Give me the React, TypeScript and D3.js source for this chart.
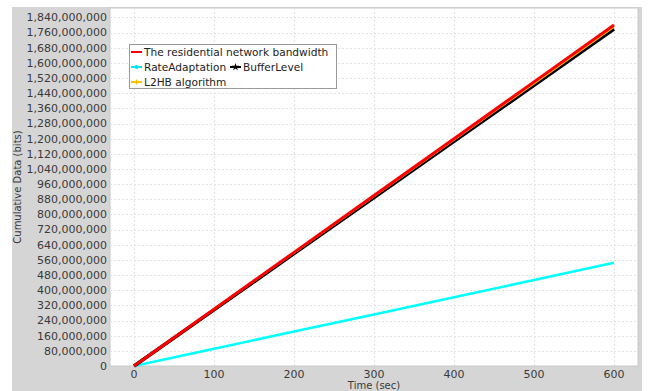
import React, { useEffect, useRef } from 'react';
import * as d3 from 'd3';

// time in seconds, cumulative bits
const times = [0, 100, 200, 300, 400, 500, 600];
const bandwidth = [0, 300e6, 600e6, 900e6, 1200e6, 1500e6, 1800e6];
const l2hb = [0, 298e6, 596e6, 894e6, 1192e6, 1490e6, 1789e6];
const bufferLevel = [0, 296e6, 593e6, 889e6, 1186e6, 1482e6, 1779e6];
const rateAdaptation = [0, 91e6, 182e6, 272e6, 363e6, 454e6, 545e6];

const xTicks = [0, 100, 200, 300, 400, 500, 600];
const yTicks = d3.range(0, 1840e6 + 1, 80e6);

const series = [
  { name: 'RateAdaptation', values: rateAdaptation, color: '#00ffff', width: 2.5 },
  { name: 'BufferLevel', values: bufferLevel, color: '#000000', width: 3.5 },
  { name: 'L2HB algorithm', values: l2hb, color: '#ffc000', width: 1.5 },
  { name: 'The residential network bandwidth', values: bandwidth, color: '#ff0000', width: 3 },
];

const App = () => {
  const ref = useRef<SVGSVGElement>(null);

  useEffect(() => {
    const svg = d3.select(ref.current);
    svg.selectAll('*').remove();

    const width = 650, height = 391;
    const left = 110, right = 638, top = 8, bottom = 366;
    const font = 'DejaVu Sans, sans-serif';
    const textColor = '#3a3a3a';

    svg.attr('width', width).attr('height', height);

    // background panel
    svg.append('rect').attr('x', 12).attr('y', 7).attr('width', 630).attr('height', 384).attr('fill', '#d5d5d5');
    svg.append('rect').attr('x', left).attr('y', top).attr('width', right - left).attr('height', bottom - top)
      .attr('fill', '#fff').attr('stroke', '#c8c8c8').attr('stroke-width', 1);

    const x = d3.scaleLinear().domain([-30, 630]).range([left, right]);
    const y = d3.scaleLinear().domain([0, 1890e6]).range([bottom, top]);

    const grid = svg.append('g');
    grid.selectAll('line.h').data(yTicks.slice(1)).join('line')
      .attr('x1', left).attr('x2', right)
      .attr('y1', d => Math.round(y(d)) + 0.5).attr('y2', d => Math.round(y(d)) + 0.5)
      .attr('stroke', '#e2e2e2').attr('stroke-dasharray', '2,2');
    grid.selectAll('line.v').data(xTicks).join('line')
      .attr('y1', top).attr('y2', bottom)
      .attr('x1', d => Math.round(x(d)) + 0.5).attr('x2', d => Math.round(x(d)) + 0.5)
      .attr('stroke', '#e2e2e2').attr('stroke-dasharray', '2,2');

    // y tick labels
    svg.append('g').selectAll('text').data(yTicks).join('text')
      .attr('x', left - 3).attr('y', d => y(d)).attr('dy', '0.35em')
      .attr('text-anchor', 'end').attr('font-family', font).attr('font-size', 11).attr('fill', textColor)
      .text(d => d3.format(',')(d));

    // x tick labels
    svg.append('g').selectAll('text').data(xTicks).join('text')
      .attr('x', d => x(d)).attr('y', 378)
      .attr('text-anchor', 'middle').attr('font-family', font).attr('font-size', 11).attr('fill', textColor)
      .text(d => d);

    svg.append('text').attr('x', (left + right) / 2).attr('y', 389)
      .attr('text-anchor', 'middle').attr('font-family', font).attr('font-size', 10).attr('fill', textColor)
      .text('Time (sec)');
    svg.append('text').attr('transform', `translate(21, ${(top + bottom) / 2}) rotate(-90)`)
      .attr('text-anchor', 'middle').attr('font-family', font).attr('font-size', 10).attr('fill', textColor)
      .text('Cumulative Data (bits)');

    const line = d3.line<number>().x((_, i) => x(times[i])).y(d => y(d));
    svg.append('g').selectAll('path').data(series).join('path')
      .attr('d', d => line(d.values))
      .attr('fill', 'none').attr('stroke', d => d.color).attr('stroke-width', d => d.width);

    // legend
    const lg = svg.append('g');
    lg.append('rect').attr('x', 129.5).attr('y', 44.5).attr('width', 207).attr('height', 44)
      .attr('fill', '#fff').attr('stroke', '#999');
    const item = (sx: number, sy: number, color: string, label: string, marker: string) => {
      lg.append('line').attr('x1', sx).attr('x2', sx + 11).attr('y1', sy).attr('y2', sy)
        .attr('stroke', color).attr('stroke-width', 2);
      if (marker === 'dot') {
        lg.append('circle').attr('cx', sx + 5.5).attr('cy', sy).attr('r', 2).attr('fill', color);
      } else if (marker === 'star') {
        lg.append('path').attr('d', d3.symbol(d3.symbolStar, 18)()).attr('transform', `translate(${sx + 5.5},${sy})`).attr('fill', color);
      } else if (marker === 'plus') {
        lg.append('line').attr('x1', sx + 5.5).attr('x2', sx + 5.5).attr('y1', sy - 2.5).attr('y2', sy + 2.5)
          .attr('stroke', color).attr('stroke-width', 1.5);
      }
      lg.append('text').attr('x', sx + 13).attr('y', sy).attr('dy', '0.35em')
        .attr('font-family', font).attr('font-size', 10.6).attr('fill', '#222').text(label);
    };
    item(131, 52, '#ff0000', 'The residential network bandwidth', '');
    item(131, 67, '#00e5ee', 'RateAdaptation', 'dot');
    item(230, 67, '#000000', 'BufferLevel', 'star');
    item(131, 82, '#ffc000', 'L2HB algorithm', 'plus');
  }, []);

  return <svg ref={ref} style={{ position: 'absolute', left: 0, top: 0 }}></svg>;
};

export default App;
